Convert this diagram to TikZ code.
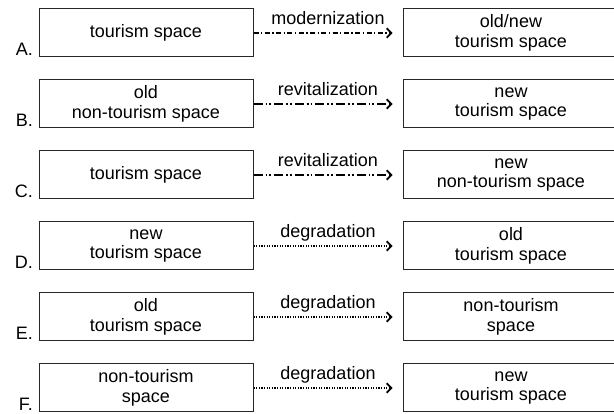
\documentclass[tikz,border=0pt]{standalone}
\usepackage{fontspec}
\setmainfont{Liberation Sans}
\usetikzlibrary{arrows.meta}
\tikzset{
  txt/.style={font=\fontsize{18}{19.5}\selectfont, text=black},
  lbox/.style={txt, draw=black!85, line width=1pt, minimum width=214pt, minimum height=48pt, inner sep=0pt, align=center},
  rbox/.style={txt, draw=black!85, line width=1pt, minimum width=216pt, minimum height=48pt, inner sep=0pt, align=center},
  rowlab/.style={txt, anchor=base east, inner sep=0pt},
  arlab/.style={txt, anchor=base, inner sep=0pt, yshift=8pt},
  conn/.style={line width=1.6pt, shorten >=10pt, -{Straight Barb[length=4.5pt,width=9.5pt,line width=1.8pt]}},
  dashdot/.style={conn, dash pattern=on 5pt off 2.5pt on 1.3pt off 2.5pt},
  dashdotdot/.style={conn, line width=2.4pt, dash pattern=on 9pt off 3pt on 1.8pt off 2pt on 1.8pt off 3pt},
  fdotted/.style={conn, dash pattern=on 1.3pt off 1.3pt},
}
\begin{document}
\begin{tikzpicture}[x=1pt,y=-1pt]
\useasboundingbox (0,0) rectangle (614,414);
\clip (0,0) rectangle (614,414);
% row labels
\foreach \r/\yc in {A/33,B/104,C/175,D/246,E/317,F/388}{
  \node[rowlab] (lab\r) at (33,\yc+22.5) {\r.};
}
\node[lbox] (A1) at (146,33) {tourism space};
\node[rbox] (A2) at (511,33) {old/new\\tourism space};
\node[lbox] (B1) at (146,104) {old\\non-tourism space};
\node[rbox] (B2) at (511,104) {new\\tourism space};
\node[lbox] (C1) at (146,175) {tourism space};
\node[rbox] (C2) at (511,175) {new\\non-tourism space};
\node[lbox] (D1) at (146,246) {new\\tourism space};
\node[rbox] (D2) at (511,246) {old\\tourism space};
\node[lbox] (E1) at (146,317) {old\\tourism space};
\node[rbox] (E2) at (511,317) {non-tourism\\space};
\node[lbox] (F1) at (146,388) {non-tourism\\space};
\node[rbox] (F2) at (511,388) {new\\tourism space};

\draw[dashdot] (A1.east) -- (A2.west) node[arlab, pos=0.5] {modernization};
\draw[dashdotdot] (B1.east) -- (B2.west) node[arlab, pos=0.5] {revitalization};
\draw[dashdotdot] (C1.east) -- (C2.west) node[arlab, pos=0.5] {revitalization};
\draw[fdotted] (D1.east) -- (D2.west) node[arlab, pos=0.5] {degradation};
\draw[fdotted] (E1.east) -- (E2.west) node[arlab, pos=0.5] {degradation};
\draw[fdotted] (F1.east) -- (F2.west) node[arlab, pos=0.5] {degradation};
\end{tikzpicture}
\end{document}
